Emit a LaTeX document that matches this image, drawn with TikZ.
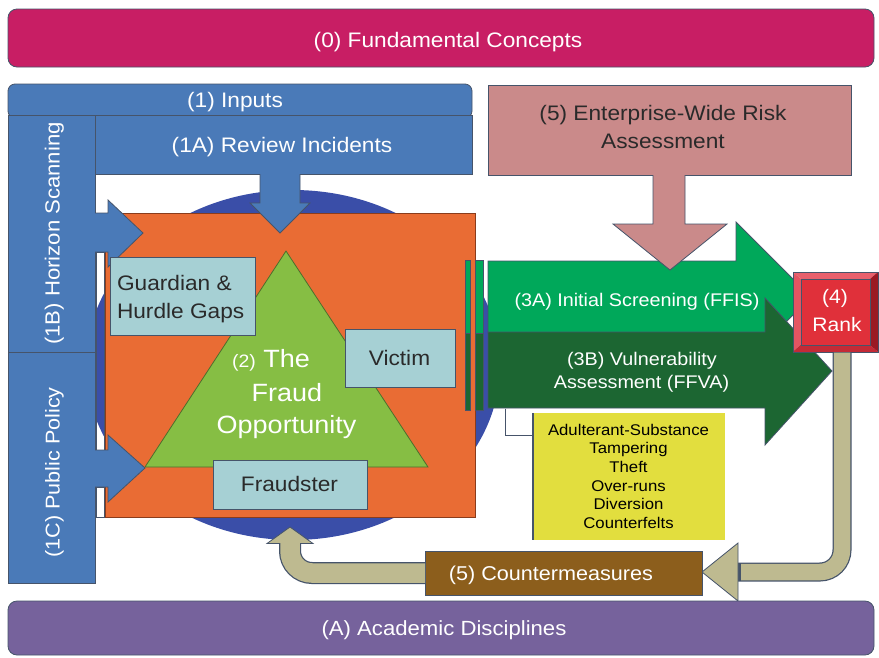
\documentclass[tikz,border=0pt]{standalone}
\usepackage{fontspec}
\setmainfont{Liberation Sans}[FakeStretch=1.08]
\usetikzlibrary{shapes.geometric}
\definecolor{crim}{HTML}{C81E64}
\definecolor{bblu}{HTML}{4A7AB8}
\definecolor{ellb}{HTML}{3A4EA8}
\definecolor{orng}{HTML}{E96C34}
\definecolor{orngd}{HTML}{8A3C1C}
\definecolor{tri}{HTML}{86BE44}
\definecolor{trid}{HTML}{4E6E2C}
\definecolor{tealb}{HTML}{A6D0D4}
\definecolor{lgrn}{HTML}{00A85A}
\definecolor{dgrn}{HTML}{1C6632}
\definecolor{rface}{HTML}{E0303A}
\definecolor{rtop}{HTML}{E8606C}
\definecolor{rleft}{HTML}{E45562}
\definecolor{rbot}{HTML}{C42A36}
\definecolor{rright}{HTML}{9A1A24}
\definecolor{tanc}{HTML}{BEBA90}
\definecolor{brwn}{HTML}{8C5E1C}
\definecolor{purp}{HTML}{76629C}
\definecolor{pink}{HTML}{CA8A8A}
\definecolor{yel}{HTML}{E2DE3E}
\definecolor{olc}{HTML}{46546A}
\definecolor{txtd}{HTML}{2A2A2A}
\tikzset{
  ol/.style={draw=olc, line width=0.8pt},
  blk/.style={inner sep=0pt, outer sep=0pt, ol},
  lbl/.style={anchor=base, inner sep=0pt, outer sep=0pt, text=white},
  dlbl/.style={anchor=base, inner sep=0pt, outer sep=0pt, text=txtd},
  fs/.style={font={\fontsize{#1}{#1}\selectfont}},
}
\begin{document}
\begin{tikzpicture}[x=1pt,y=-1pt]
\useasboundingbox (0,0) rectangle (879,657);
\fill[white] (0,0) rectangle (879,657);

% ellipse behind the opportunity
\node[ellipse, fill=ellb, inner sep=0pt, minimum width=414, minimum height=350] (circ) at (293,365) {};

% inputs
\node[blk, fill=bblu, rounded corners=7, minimum width=464, minimum height=34] (inp) at (240,101) {};
\node[blk, fill=bblu, minimum width=377, minimum height=59] (rev) at (283.5,144.5) {};
\node[blk, fill=bblu, minimum width=87, minimum height=237] (hor) at (51.5,233.5) {};
\node[blk, fill=bblu, minimum width=87, minimum height=231] (pub) at (51.5,467.5) {};
\node[lbl, fs=21] (inpt) at (235,107) {(1) Inputs};
\node[lbl, fs=21] (revt) at (282,152) {(1A) Review Incidents};
\node[lbl, fs=20.5, rotate=90] (hort) at (59.5,233.5) {(1B) Horizon Scanning};
\node[lbl, fs=20, rotate=90] (pubt) at (59.5,472.5) {(1C) Public Policy};

% thin strips between column and opportunity
\draw[ol] (96,252) rectangle (104,450);
\draw[ol] (96,487) rectangle (104,517);

% opportunity square
\node[inner sep=0pt, outer sep=0pt, fill=orng, draw=orngd, line width=0.8pt, minimum width=370, minimum height=304] (opp) at (290,365) {};

% arrows from inputs
\path[fill=bblu, ol] (95,213) -- (108,213) -- (108,200) -- (143,233) -- (108,267) -- (108,252) -- (95,252);
\path[fill=bblu, ol] (95,450) -- (108,450) -- (108,435) -- (145,468) -- (108,502) -- (108,487) -- (95,487);
\path[fill=bblu, ol] (260,174) -- (260,203) -- (250,203) -- (280,233) -- (310,203) -- (300,203) -- (300,174);

% fraud triangle
\filldraw[fill=tri, draw=trid, line width=0.8pt] (145,467) -- (428,467) -- (286,251) -- cycle;
\node[lbl, fs=25] (t2a) at (271,367) {{\fontsize{18}{18}\selectfont (2)} The};
\node[lbl, fs=25] (t2b) at (287,401.5) {Fraud};
\node[lbl, fs=25] (t2c) at (286.5,433) {Opportunity};

% element boxes
\node[blk, fill=tealb, minimum width=145, minimum height=78] (guard) at (182.5,296) {};
\node[dlbl, fs=21, anchor=base west] (guardt1) at (117,290) {Guardian \&};
\node[dlbl, fs=21, anchor=base west] (guardt2) at (117,318) {Hurdle Gaps};
\node[blk, fill=tealb, minimum width=110, minimum height=58] (vict) at (400,358) {};
\node[dlbl, fs=21] (victt) at (399.5,365) {Victim};
\node[blk, fill=tealb, minimum width=154, minimum height=49] (frst) at (290,484.5) {};
\node[dlbl, fs=21] (frstt) at (289.5,491.5) {Fraudster};

% green arrows
\filldraw[fill=lgrn, ol] (465,260) rectangle (470,333);
\filldraw[fill=dgrn, ol] (465,333) rectangle (470,410);
\filldraw[fill=lgrn, ol] (475,260) rectangle (483,333);
\filldraw[fill=dgrn, ol] (475,333) rectangle (483,410);
\filldraw[fill=lgrn, ol] (488,261) -- (736,261) -- (736,222) -- (811,297) -- (736,372) -- (736,333) -- (488,333) -- cycle;
\filldraw[fill=dgrn, ol] (488,332) -- (765,332) -- (765,298) -- (832,371) -- (765,445) -- (765,408) -- (488,408) -- cycle;
\node[lbl, fs=18.3] (scrt) at (637,306) {(3A) Initial Screening (FFIS)};
\node[lbl, fs=18.3] (vult1) at (642,365.5) {(3B) Vulnerability};
\node[lbl, fs=18.3] (vult2) at (641.5,388) {Assessment (FFVA)};

% enterprise-wide risk assessment
\node[blk, fill=pink, minimum width=363, minimum height=90] (ewra) at (669.5,130) {};
\filldraw[fill=pink, ol] (653,175) -- (653,224) -- (613,224) -- (670,270) -- (727,224) -- (685,224) -- (685,175);
\node[dlbl, fs=21] (ewrat1) at (663,120.5) {(5) Enterprise-Wide Risk};
\node[dlbl, fs=21] (ewrat2) at (663,148.5) {Assessment};

% rank
\fill[rtop] (793,272) -- (878,272) -- (870,279) -- (801,279) -- cycle;
\fill[rleft] (793,272) -- (801,279) -- (801,345) -- (793,352) -- cycle;
\fill[rbot] (793,352) -- (801,345) -- (870,345) -- (878,352) -- cycle;
\fill[rright] (878,272) -- (870,279) -- (870,345) -- (878,352) -- cycle;
\node[inner sep=0pt, outer sep=0pt, fill=rface, draw=olc, line width=0.5pt, minimum width=69, minimum height=66] (rank) at (835.5,312) {};
\draw[ol] (793,272) rectangle (878,352);
\node[lbl, fs=19.5] (rankt1) at (835,303.5) {(4)};
\node[lbl, fs=19.5] (rankt2) at (837,331.5) {Rank};

% fraud types
\node[inner sep=0pt, outer sep=0pt, fill=yel, minimum width=192, minimum height=127] (types) at (629,476.5) {};
\draw[draw=olc, line width=1.2pt] (types.north west) -- (types.south west);
\coordinate (brkA) at (505,408.5);
\coordinate (brkB) at (533,435);
\draw[draw=olc, line width=1pt] (brkA) |- (brkB);
\node[dlbl, text=black, fs=15.5] (ty1) at (628.5,435) {Adulterant-Substance};
\node[dlbl, text=black, fs=15.5] (ty2) at (628.5,453.7) {Tampering};
\node[dlbl, text=black, fs=15.5] (ty3) at (628.5,472.4) {Theft};
\node[dlbl, text=black, fs=15.5] (ty4) at (628.5,491.1) {Over-runs};
\node[dlbl, text=black, fs=15.5] (ty5) at (628.5,509.8) {Diversion};
\node[dlbl, text=black, fs=15.5] (ty6) at (628.5,528.5) {Counterfelts};

% return arrow rank -> countermeasures
\coordinate (r1) at (842,352.5);
\coordinate (r2) at (842,572);
\coordinate (r3) at (737,572);
\coordinate (r4) at (741,572);
\draw[olc, line width=19pt, rounded corners=22] (r1) -- (r2) -- (r3);
\filldraw[fill=tanc, ol] (738,543) -- (702,572) -- (738,601) -- cycle;
\draw[tanc, line width=16.5pt, rounded corners=22] (r1) -- (r2) -- (r4);

% countermeasures
\node[blk, fill=brwn, minimum width=277, minimum height=44] (cm) at (563.5,573) {};
\node[lbl, fs=20] (cmt) at (551,580) {(5) Countermeasures};

% return arrow countermeasures -> opportunity
\coordinate (c1) at (425,573);
\coordinate (c2) at (290,573);
\coordinate (c3) at (290,543.5);
\coordinate (c4) at (290,541);
\draw[olc, line width=22pt, rounded corners=22] (c1) -- (c2) -- (c3);
\filldraw[fill=tanc, ol] (267,543.5) -- (290,527) -- (313,543.5) -- cycle;
\draw[tanc, line width=19.5pt, rounded corners=22] (c1) -- (c2) -- (c4);

% top and bottom bars
\node[blk, fill=crim, rounded corners=9, minimum width=866, minimum height=58] (fund) at (441,38) {};
\node[lbl, fs=21] (fundt) at (448,47) {(0) Fundamental Concepts};
\node[blk, fill=purp, rounded corners=9, minimum width=866, minimum height=54] (acad) at (441,628) {};
\node[lbl, fs=20.5] (acadt) at (444,635) {(A) Academic Disciplines};
\end{tikzpicture}
\end{document}
